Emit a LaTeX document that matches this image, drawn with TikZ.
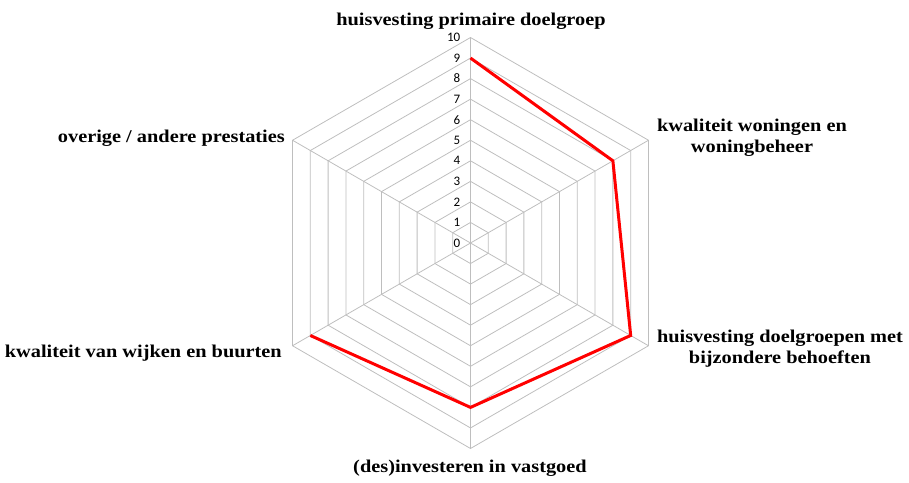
\documentclass[tikz,border=0pt]{standalone}
\usepackage{fontspec}
\setmainfont{Liberation Serif}
\newfontfamily\numfont{Carlito}
\newfontfamily\labfont[FakeStretch=1.13]{Liberation Serif Bold}
\definecolor{gridgray}{RGB}{190,190,190}
\definecolor{datared}{RGB}{255,0,0}
\begin{document}
\begin{tikzpicture}[x=1pt,y=1pt,
  lab/.style={font=\labfont\fontsize{18}{21}\selectfont, inner sep=0pt},
  num/.style={font=\numfont\fontsize{13}{15}\selectfont, anchor=east, inner sep=0pt},
  gridline/.style={draw=gridgray, line width=0.8pt},
  dataline/.style={draw=datared, line width=3pt}]
\useasboundingbox (0,0) rectangle (909,482);
\begin{scope}[shift={(470.5,239)}]
  \foreach \k in {1,...,10}
    \draw[gridline] (90:\k*20.55) -- (30:\k*20.55) -- (-30:\k*20.55) -- (-90:\k*20.55) -- (-150:\k*20.55) -- (150:\k*20.55) -- cycle;
  \foreach \a in {90,30,-30,-90,-150,150}
    \draw[gridline] (0,0) -- (\a:205.5);
  \foreach \k in {0,...,10}
    \node[num] (n\k) at (-10,\k*20.55) {\k};
  \coordinate (d1) at (90:9*20.55);
  \coordinate (d2) at (30:8*20.55);
  \coordinate (d3) at (-30:9*20.55);
  \coordinate (d4) at (-90:8*20.55);
  \coordinate (d5) at (-150:9*20.55);
  \draw[dataline] (d1) -- (d2) -- (d3) -- (d4) -- (d5);
\end{scope}
\node[lab, anchor=base] (l1) at (471,456) {huisvesting primaire doelgroep};
\node[lab, align=center] (l2) at (752,344) {kwaliteit woningen en\\woningbeheer};
\node[lab, align=center] (l3) at (780,133) {huisvesting doelgroepen met\\bijzondere behoeften};
\node[lab, anchor=base] (l4) at (470,10) {(des)investeren in vastgoed};
\node[lab, anchor=base east] (l5) at (282,125) {kwaliteit van wijken en buurten};
\node[lab, anchor=base east] (l6) at (285,339) {overige / andere prestaties};
\end{tikzpicture}
\end{document}
